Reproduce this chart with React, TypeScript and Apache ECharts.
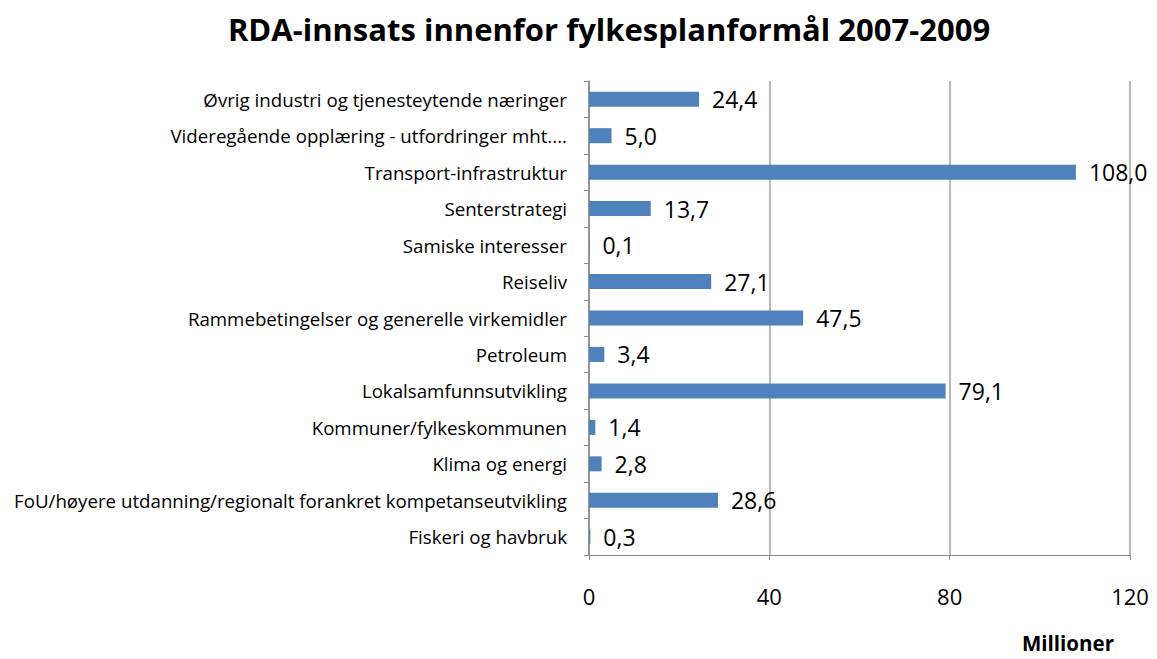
import React, { useEffect, useRef } from "react";
import * as echarts from "echarts";

const categories = [
  "Øvrig industri og tjenesteytende næringer",
  "Videregående opplæring - utfordringer mht....",
  "Transport-infrastruktur",
  "Senterstrategi",
  "Samiske interesser",
  "Reiseliv",
  "Rammebetingelser og generelle virkemidler",
  "Petroleum",
  "Lokalsamfunnsutvikling",
  "Kommuner/fylkeskommunen",
  "Klima og energi",
  "FoU/høyere utdanning/regionalt forankret kompetanseutvikling",
  "Fiskeri og havbruk",
];
const values = [24.4, 5.0, 108.0, 13.7, 0.1, 27.1, 47.5, 3.4, 79.1, 1.4, 2.8, 28.6, 0.3];
const xTicks = [0, 40, 80, 120];

const FONT = "Open Sans, Noto Sans, sans-serif";

export default function App() {
  const ref = useRef<HTMLDivElement>(null);
  useEffect(() => {
    if (!ref.current) return;
    const chart = echarts.init(ref.current, undefined, { renderer: "svg" });
    chart.setOption({
      animation: false,
      backgroundColor: "#fff",
      title: {
        text: "RDA-innsats innenfor fylkesplanformål 2007-2009",
        left: 604,
        top: 8,
        textAlign: "center",
        textStyle: { fontFamily: FONT, fontWeight: "bold", fontSize: 31, color: "#000" },
      },
      grid: { left: 589, right: 27, top: 81, bottom: 104, containLabel: false },
      xAxis: {
        type: "value",
        min: xTicks[0],
        max: xTicks[xTicks.length - 1],
        interval: 40,
        axisLine: { show: true, lineStyle: { color: "#888", width: 1 } },
        axisTick: { show: true, length: 5, lineStyle: { color: "#888" } },
        splitLine: { show: true, lineStyle: { color: "#a0a0a0", width: 1.5 } },
        axisLabel: { fontFamily: FONT, fontSize: 22, color: "#000", margin: 30 },
      },
      yAxis: {
        type: "category",
        data: categories,
        inverse: true,
        axisLine: { show: true, lineStyle: { color: "#888", width: 1.5 } },
        axisTick: { show: true, length: 5, lineStyle: { color: "#888" } },
        axisLabel: { fontFamily: FONT, fontSize: 18.7, color: "#000", margin: 22 },
      },
      series: [
        {
          type: "bar",
          data: values,
          barWidth: 15,
          itemStyle: { color: "#4F81BD" },
          label: {
            show: true,
            position: "right",
            distance: 13,
            fontFamily: FONT,
            fontSize: 23,
            color: "#000",
            formatter: (p: any) => p.value.toFixed(1).replace(".", ","),
          },
        },
      ],
      graphic: [
        {
          type: "text",
          left: 1022,
          top: 632,
          style: { text: "Millioner", fontFamily: FONT, fontWeight: "bold", fontSize: 20.5, fill: "#000" },
        },
      ],
    });
    return () => chart.dispose();
  }, []);
  return <div ref={ref} style={{ width: 1157, height: 659, position: "absolute", left: 0, top: 0 }} />;
}
